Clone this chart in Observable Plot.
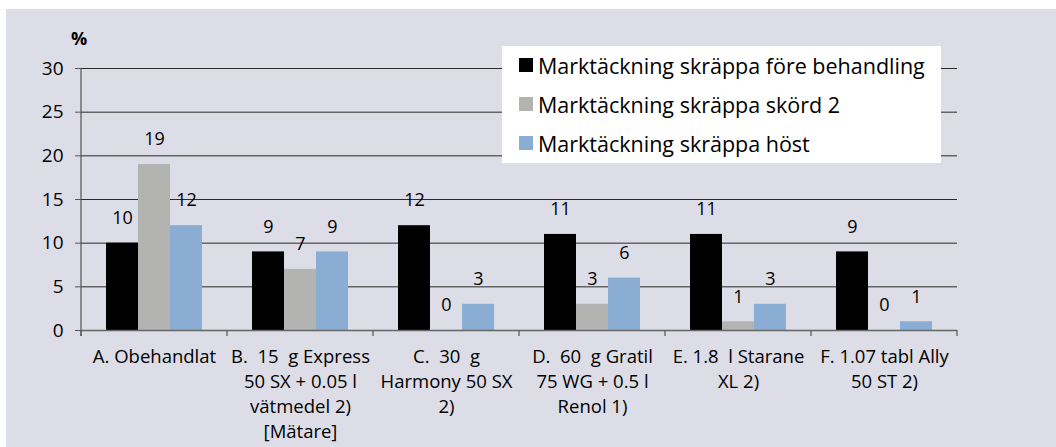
<!DOCTYPE html>
<html><head><meta charset="utf-8">
<script src="https://cdn.jsdelivr.net/npm/d3@7"></script>
<script src="https://cdn.jsdelivr.net/npm/@observablehq/plot@0.6"></script>
<style>
body{margin:0;background:#fff;}
#wrap{position:relative;width:1056px;height:447px;overflow:hidden;font-family:"Open Sans",sans-serif;color:#000;}
#bg{position:absolute;left:6px;top:9px;right:0;bottom:0;background:#dcdde6;}
#chart{position:absolute;left:0;top:0;}
#chart svg text{white-space:pre;}
#pct{position:absolute;left:71px;top:28px;font-weight:bold;font-size:18px;line-height:20px;}
#legend{position:absolute;left:502px;top:46px;width:439px;height:117px;background:#fff;}
.item{position:absolute;left:17px;height:28px;display:flex;align-items:center;font-size:21.5px;white-space:nowrap;}
.sw{width:14px;height:14px;margin-right:5px;flex:none;}
</style></head><body>
<div id="wrap"><div id="bg"></div><div id="chart"></div><div id="pct">%</div><div id="legend"></div></div>
<script>
const categories = [
  "A. Obehandlat",
  "B.  15  g Express\n50 SX + 0.05 l\nvätmedel 2)\n[Mätare]",
  "C.  30  g\nHarmony 50 SX\n2)",
  "D.  60  g Gratil\n75 WG + 0.5 l\nRenol 1)",
  "E. 1.8  l Starane\nXL 2)",
  "F. 1.07 tabl Ally\n50 ST 2)"
];
const series = [
  "Marktäckning skräppa före behandling",
  "Marktäckning skräppa skörd 2",
  "Marktäckning skräppa höst"
];
const foreBehandling = [10, 9, 12, 11, 11, 9];
const skord2 = [19, 7, 0, 3, 1, 0];
const host = [12, 9, 3, 6, 3, 1];
const colors = ["#000000", "#b3b4b2", "#8aaed3"];
const yTicks = [0, 5, 10, 15, 20, 25, 30];

const valuesBySeries = [foreBehandling, skord2, host];
const rows = [];
categories.forEach((c, i) => {
  series.forEach((s, j) => rows.push({cat: c, series: s, value: valuesBySeries[j][i]}));
});

const plot = Plot.plot({
  width: 1056, height: 447,
  marginLeft: 79, marginRight: 98, marginTop: 68, marginBottom: 117,
  style: {background: "transparent", fontFamily: "'Open Sans', sans-serif", fontSize: "16px", color: "#000"},
  fx: {domain: categories, padding: 0, label: null},
  x: {domain: series, paddingInner: 0, paddingOuter: 0.77, axis: null},
  y: {domain: [0, 30], label: null},
  color: {domain: series, range: colors},
  marks: [
    Plot.ruleY(yTicks.filter(d => d > 0), {stroke: "#2a2a2a", strokeWidth: 1}),
    Plot.barY(rows, {fx: "cat", x: "series", y: "value", fill: "series"}),
    Plot.text(rows, {fx: "cat", x: "series", y: "value", text: d => String(d.value), dy: -25, fontSize: 18, fill: "#000"}),
    Plot.ruleY([0], {stroke: "#666", strokeWidth: 1.6}),
    Plot.axisY(yTicks, {tickSize: 6, tickPadding: 12, fontSize: 19, label: null, stroke: "#555"}),
    Plot.axisFx({anchor: "bottom", tickSize: 0, tickPadding: 15, lineHeight: 1.35, fontSize: 18.5, label: null})
  ]
});
document.getElementById("chart").appendChild(plot);

// y-axis line and category boundary ticks from the library's scales
const fx = plot.scale("fx"), y = plot.scale("y");
const y0 = y.apply(0), yTop = y.apply(30);
const g = d3.select(plot).append("g").attr("stroke", "#555").attr("stroke-width", 1.2);
const left = fx.apply(categories[0]);
g.append("line").attr("x1", left).attr("x2", left).attr("y1", yTop).attr("y2", y0 + 6);
const bounds = categories.map(c => fx.apply(c)).concat([fx.apply(categories[categories.length - 1]) + fx.bandwidth]);
bounds.forEach(b => g.append("line").attr("x1", b).attr("x2", b).attr("y1", y0).attr("y2", y0 + 6));

// legend
const legend = d3.select("#legend");
const tops = [5, 44, 83];
series.forEach((s, j) => {
  const it = legend.append("div").attr("class", "item").style("top", tops[j] + "px");
  it.append("div").attr("class", "sw").style("background", colors[j]);
  it.append("span").text(s);
});
</script>
</body></html>
